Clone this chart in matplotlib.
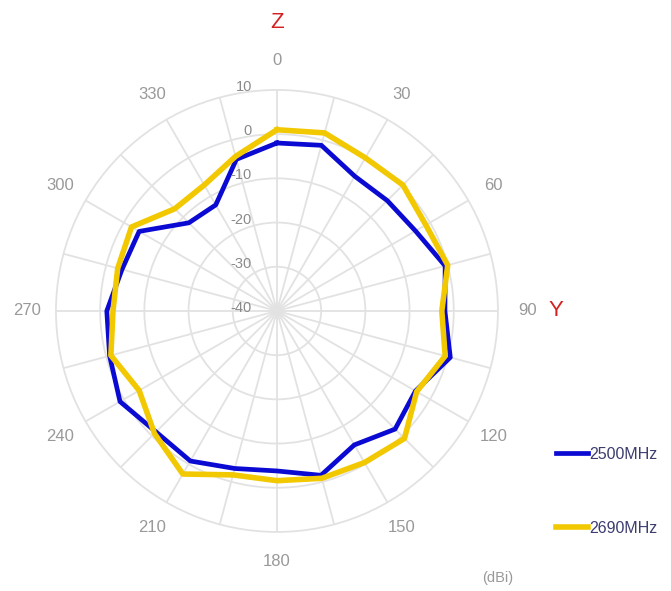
import numpy as np
import matplotlib
matplotlib.use("Agg")
import matplotlib.pyplot as plt

# ---------------------------------------------------------------
# データ（15度刻み、dBi）
angles_deg = list(range(0, 360, 15))
gain_2500 = [-2.0, -1.2, -4.8, -4.7, -3.8, -0.6, -2.0, 0.6, -3.8, -2.2, -5.0, -1.5,
             -3.8, -3.1, -0.8, -1.3, 1.0, -0.8, -1.5, -3.7, -4.0, -11.8, -12.3, -4.5]
gain_2690 = [1.0, 1.7, 0.0, 0.3, -1.1, 0.0, -2.7, -0.6, -3.5, 0.8, -0.4, -0.8,
             -1.6, -1.6, 2.6, -0.8, -4.0, -1.1, -2.9, -2.7, -2.0, -7.3, -7.1, -3.8]
series_labels = ["2500MHz", "2690MHz"]
ring_values = [-40, -30, -20, -10, 0, 10]
angle_ticks = list(range(0, 360, 30))

plt.rcParams["font.family"] = ["Liberation Sans", "DejaVu Sans"]

fig = plt.figure(figsize=(6.71, 5.91), dpi=100)
ax = fig.add_axes([0.0834, 0.0999, 0.6587, 0.7479], projection="polar")
ax.set_theta_zero_location("N")
ax.set_theta_direction(-1)
ax.set_rlim(-40, 10)

# グリッド
ax.set_thetagrids(range(0, 360, 15), labels=[""] * 24)
ax.set_rgrids([-30, -20, -10, 0], labels=[""] * 4)
ax.grid(True, color="#e2e2e2", linewidth=1.3)
ax.spines["polar"].set_color("#e2e2e2")
ax.spines["polar"].set_linewidth(1.3)
ax.tick_params(length=0)

# 系列（閉じたループ）
th = np.deg2rad(angles_deg + [angles_deg[0]])
ax.plot(th, gain_2500 + [gain_2500[0]], color="#0a0ad2", lw=3.4,
        solid_joinstyle="round", label=series_labels[0], zorder=3)
ax.plot(th, gain_2690 + [gain_2690[0]], color="#f2c800", lw=4.0,
        solid_joinstyle="round", label=series_labels[1], zorder=4)

# 角度ラベル
for a in angle_ticks:
    ax.text(np.deg2rad(a), 16.6, str(a), ha="center", va="center",
            fontsize=12, color="#999999", clip_on=False)

# 半径ラベル
for v in ring_values:
    ax.annotate(str(v), xy=(0, v), xytext=(-25, 3), textcoords="offset pixels",
                ha="right", va="center", fontsize=10.5, color="#8a8a8a",
                annotation_clip=False)

# 軸名
fig.text(277 / 671, 1 - 22 / 591, "Z", ha="center", va="center",
         fontsize=16, color="#d42020")
fig.text(556 / 671, 1 - 311 / 591, "Y", ha="center", va="center",
         fontsize=16, color="#d42020")
fig.text(498 / 671, 1 - 578 / 591, "(dBi)", ha="center", va="center",
         fontsize=10.5, color="#999999")

# 凡例
leg = fig.legend(loc="center left", bbox_to_anchor=(556 / 671, 1 - 491.5 / 591),
                 frameon=False, fontsize=11.5, handlelength=2.0, handletextpad=0.1,
                 labelspacing=3.7, borderpad=0, borderaxespad=0)
for t in leg.get_texts():
    t.set_color("#3c3c6e")

fig.savefig("out.png", dpi=100)
